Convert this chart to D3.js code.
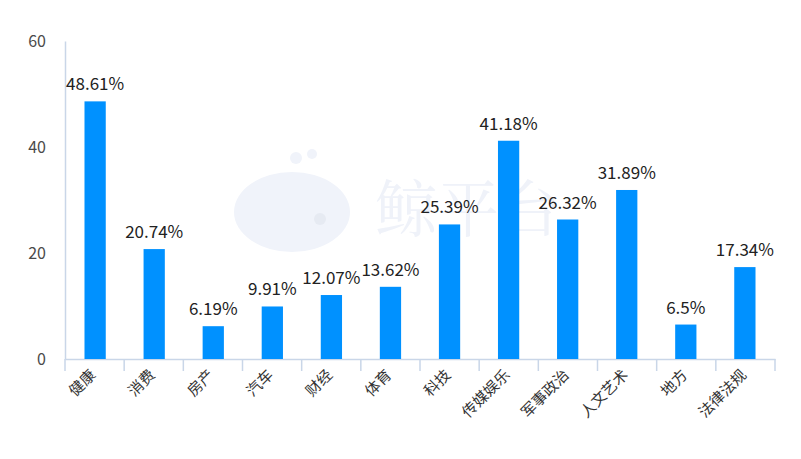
<!DOCTYPE html>
<html><head><meta charset="utf-8">
<script src="https://cdn.jsdelivr.net/npm/d3@7"></script>
<style>html,body{margin:0;padding:0;background:#fff;}svg{display:block;}</style>
</head><body>
<svg id="c" width="801" height="459"></svg>
<script>
const categories = ["健康","消费","房产","汽车","财经","体育","科技","传媒娱乐","军事政治","人文艺术","地方","法律法规"];
const values = [48.61,20.74,6.19,9.91,12.07,13.62,25.39,41.18,26.32,31.89,6.5,17.34];
const valueLabels = ["48.61%","20.74%","6.19%","9.91%","12.07%","13.62%","25.39%","41.18%","26.32%","31.89%","6.5%","17.34%"];
const yTicks = [0,20,40,60];

(function(){
const svg = d3.select("#c");
const mLeft = 65, mRight = 775, mTop = 41, mBottom = 359;
const font = "'Noto Sans CJK SC','Noto Sans',sans-serif";

// watermark (faint logo behind the chart)
const wm = svg.append("g");
wm.append("ellipse").attr("cx",292).attr("cy",212).attr("rx",58).attr("ry",40).attr("fill","#f0f3fa");
wm.append("path").attr("d","M236 222 L248 200 L262 212 Z").attr("fill","#f0f3fa");
wm.append("circle").attr("cx",320).attr("cy",219).attr("r",6).attr("fill","#e6eaf2");
wm.append("circle").attr("cx",296).attr("cy",158).attr("r",6).attr("fill","#f0f3fa");
wm.append("circle").attr("cx",312).attr("cy",154).attr("r",5).attr("fill","#f0f3fa");
wm.append("text").attr("x",375).attr("y",232).attr("font-family","'Noto Serif CJK SC','Noto Sans CJK SC',serif")
  .attr("font-size",62).attr("fill","#eff2f9").text("鲸平台");

const x = d3.scaleBand().domain(categories).range([mLeft,mRight]).paddingInner(0.64).paddingOuter(0.33);
const xTick = d3.scaleBand().domain(categories).range([mLeft,mRight]);
const y = d3.scaleLinear().domain([0,60]).range([mBottom,mTop]);

// y axis
const yAxis = svg.append("g").attr("transform",`translate(${mLeft},0)`)
  .call(d3.axisLeft(y).tickValues(yTicks).tickSize(0).tickPadding(19));
yAxis.select(".domain").attr("stroke","#c9d6e8").attr("stroke-width",1.5);
yAxis.selectAll("text").attr("font-family",font).attr("font-size",16).attr("fill","#4a4a4a");

// x axis
const xAxis = svg.append("g").attr("transform",`translate(0,${mBottom})`)
  .call(d3.axisBottom(xTick).tickSize(0).tickFormat(""));
xAxis.select(".domain").attr("stroke","#c9d6e8").attr("stroke-width",1.5);
const bounds = categories.map(c=>xTick(c)).concat([mRight]);
svg.append("g").selectAll("line").data(bounds).join("line")
  .attr("x1",d=>d).attr("x2",d=>d).attr("y1",mBottom).attr("y2",mBottom+12)
  .attr("stroke","#c9d6e8").attr("stroke-width",1.5);

svg.append("g").selectAll("text").data(categories).join("text")
  .attr("transform",d=>`translate(${xTick(d)+xTick.bandwidth()/2+2},${mBottom+17}) rotate(-45)`)
  .attr("text-anchor","end").attr("font-family",font).attr("font-size",15).attr("fill","#333")
  .text(d=>d);

// bars
svg.append("g").selectAll("rect").data(values).join("rect")
  .attr("x",(d,i)=>x(categories[i])).attr("width",x.bandwidth())
  .attr("y",d=>y(d)).attr("height",d=>mBottom-y(d)).attr("fill","#0091ff");

svg.append("g").selectAll("text").data(values).join("text")
  .attr("x",(d,i)=>x(categories[i])+x.bandwidth()/2).attr("y",d=>y(d)-11)
  .attr("text-anchor","middle").attr("font-family",font).attr("font-size",17).attr("fill","#222")
  .text((d,i)=>valueLabels[i]);
})();
</script>
</body></html>
